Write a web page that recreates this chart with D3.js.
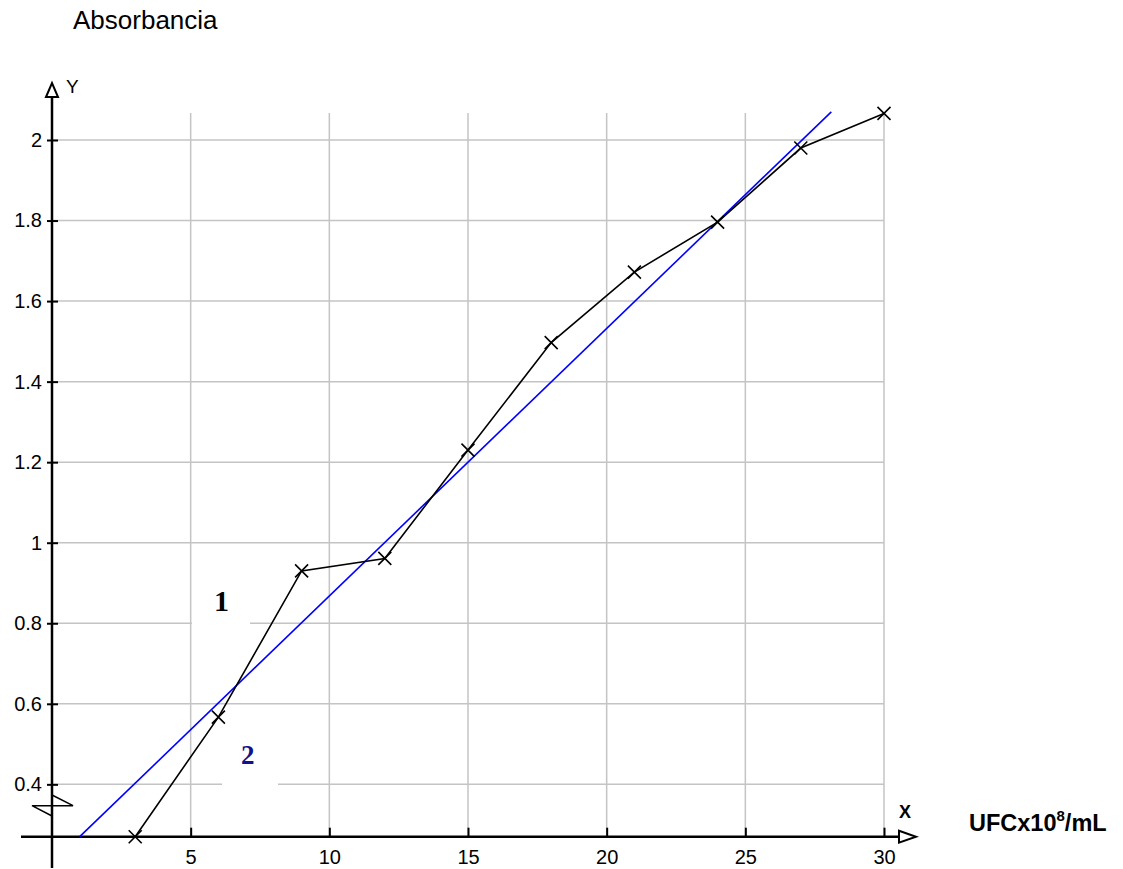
<!DOCTYPE html>
<html>
<head>
<meta charset="utf-8">
<script src="https://cdn.jsdelivr.net/npm/d3@7"></script>
<style>
  body { margin: 0; background: #fff; }
  svg { font-family: "Liberation Sans", Arial, sans-serif; }
</style>
</head>
<body>
<svg width="1123" height="869"></svg>
<script>
var svg = d3.select('svg');

// data
var ufc = [3, 6, 9, 12, 15, 18, 21, 24, 27, 30];
var absorbancia = [0.27, 0.567, 0.93, 0.961, 1.23, 1.497, 1.672, 1.796, 1.98, 2.066];
// fitted straight line (ends)
var fitX = [1.0, 28.1];
var fitY = [0.27, 2.07];
var xTicks = [5, 10, 15, 20, 25, 30];
var yTicks = [0.4, 0.6, 0.8, 1, 1.2, 1.4, 1.6, 1.8, 2];

// x and y coordinate origin is from the top left
var xScale = d3.scaleLinear().domain([0, 30]).range([52, 884]);
var yScale = d3.scaleLinear().domain([0.27, 2]).range([836.7, 140]);
var gridTop = yScale(2.067);

// grid
svg.append('g').selectAll('line').data(xTicks).enter().append('line')
  .attr('x1', function(d) { return xScale(d); })
  .attr('x2', function(d) { return xScale(d); })
  .attr('y1', gridTop)
  .attr('y2', yScale(0.27))
  .attr('stroke', '#c4c4c4').attr('stroke-width', 1.5);
svg.append('g').selectAll('line').data(yTicks).enter().append('line')
  .attr('x1', xScale(0))
  .attr('x2', xScale(30))
  .attr('y1', function(d) { return yScale(d); })
  .attr('y2', function(d) { return yScale(d); })
  .attr('stroke', '#c4c4c4').attr('stroke-width', 1.5);

// white boxes behind the curve labels (they hide bits of the grid)
svg.append('rect').attr('x', 192).attr('y', 584).attr('width', 58).attr('height', 41).attr('fill', '#fff');
svg.append('rect').attr('x', 222).attr('y', 744).attr('width', 56).attr('height', 42).attr('fill', '#fff');

// axes
var xAxis = d3.axisBottom(xScale).tickValues(xTicks).tickSize(-9).tickPadding(13);
var yAxis = d3.axisLeft(yScale).tickValues(yTicks).tickSize(5).tickPadding(5)
  .tickFormat(function(d) { return d3.format('')(d); });

var gx = svg.append('g').attr('transform', 'translate(0,' + yScale(0.27) + ')').call(xAxis);
var gy = svg.append('g').attr('transform', 'translate(' + xScale(0) + ',0)').call(yAxis);
[gx, gy].forEach(function(g) {
  g.select('.domain').remove();
  g.selectAll('line').attr('stroke', '#000').attr('stroke-width', 2);
  g.selectAll('text').attr('font-size', 20).attr('fill', '#000')
    .attr('font-family', '"Liberation Sans", Arial, sans-serif');
});
// y ticks cross the axis
gy.selectAll('.tick line').attr('x1', -5).attr('x2', 6);

var x0 = yScale(0.27);
var y0 = xScale(0);
svg.append('line').attr('x1', 21).attr('x2', 900).attr('y1', x0).attr('y2', x0)
  .attr('stroke', '#000').attr('stroke-width', 2.5);
svg.append('line').attr('x1', y0).attr('x2', y0).attr('y1', 868).attr('y2', 96)
  .attr('stroke', '#000').attr('stroke-width', 2.5);
// open arrow heads
svg.append('path')
  .attr('d', 'M' + 899 + ',' + (x0 - 6) + 'L916,' + x0 + 'L899,' + (x0 + 6) + 'Z')
  .attr('fill', '#fff').attr('stroke', '#000').attr('stroke-width', 2);
svg.append('path')
  .attr('d', 'M' + (y0 - 6) + ',97L' + y0 + ',83L' + (y0 + 6) + ',97Z')
  .attr('fill', '#fff').attr('stroke', '#000').attr('stroke-width', 2);
// axis break mark
svg.append('path')
  .attr('d', 'M' + y0 + ',795L' + (y0 + 21) + ',805.7L' + (y0 - 20) + ',805.7L' + y0 + ',816')
  .attr('fill', 'none').attr('stroke', '#000').attr('stroke-width', 1.5);

// fitted line
var fitData = fitX.map(function(d, i) { return [d, fitY[i]]; });
var line = d3.line()
  .x(function(d) { return xScale(d[0]); })
  .y(function(d) { return yScale(d[1]); });
svg.append('path').datum(fitData).attr('d', line)
  .attr('fill', 'none').attr('stroke', '#0000ff').attr('stroke-width', 1.6);

// measured points
var pts = ufc.map(function(d, i) { return [d, absorbancia[i]]; });
svg.append('path').datum(pts).attr('d', line)
  .attr('fill', 'none').attr('stroke', '#000').attr('stroke-width', 1.6);
svg.append('g').selectAll('path').data(pts).enter().append('path')
  .attr('d', function(d) {
    var cx = xScale(d[0]), cy = yScale(d[1]), s = 6.5;
    return 'M' + (cx - s) + ',' + (cy - s) + 'L' + (cx + s) + ',' + (cy + s) +
      'M' + (cx - s) + ',' + (cy + s) + 'L' + (cx + s) + ',' + (cy - s);
  })
  .attr('stroke', '#000').attr('stroke-width', 1.6).attr('fill', 'none');

// texts
svg.append('text').attr('x', 73).attr('y', 29).attr('font-size', 26).text('Absorbancia');
svg.append('text').attr('x', 66).attr('y', 93).attr('font-size', 19).text('Y');
svg.append('text').attr('x', 899).attr('y', 818).attr('font-size', 18).attr('font-weight', 'bold').text('X');

var unit = svg.append('text').attr('x', 969).attr('y', 831).attr('font-size', 23.5).attr('font-weight', 'bold');
unit.append('tspan').text('UFCx10');
unit.append('tspan').attr('dy', -10).attr('font-size', 15).text('8');
unit.append('tspan').attr('dy', 10).text('/mL');

svg.append('text').attr('x', 214).attr('y', 611).attr('font-size', 30).attr('font-weight', 'bold')
  .attr('font-family', '"Liberation Serif", "Times New Roman", serif').attr('fill', '#000').text('1');
svg.append('text').attr('x', 241).attr('y', 764).attr('font-size', 27).attr('font-weight', 'bold')
  .attr('font-family', '"Liberation Serif", "Times New Roman", serif').attr('fill', '#12128a').text('2');
</script>
</body>
</html>
